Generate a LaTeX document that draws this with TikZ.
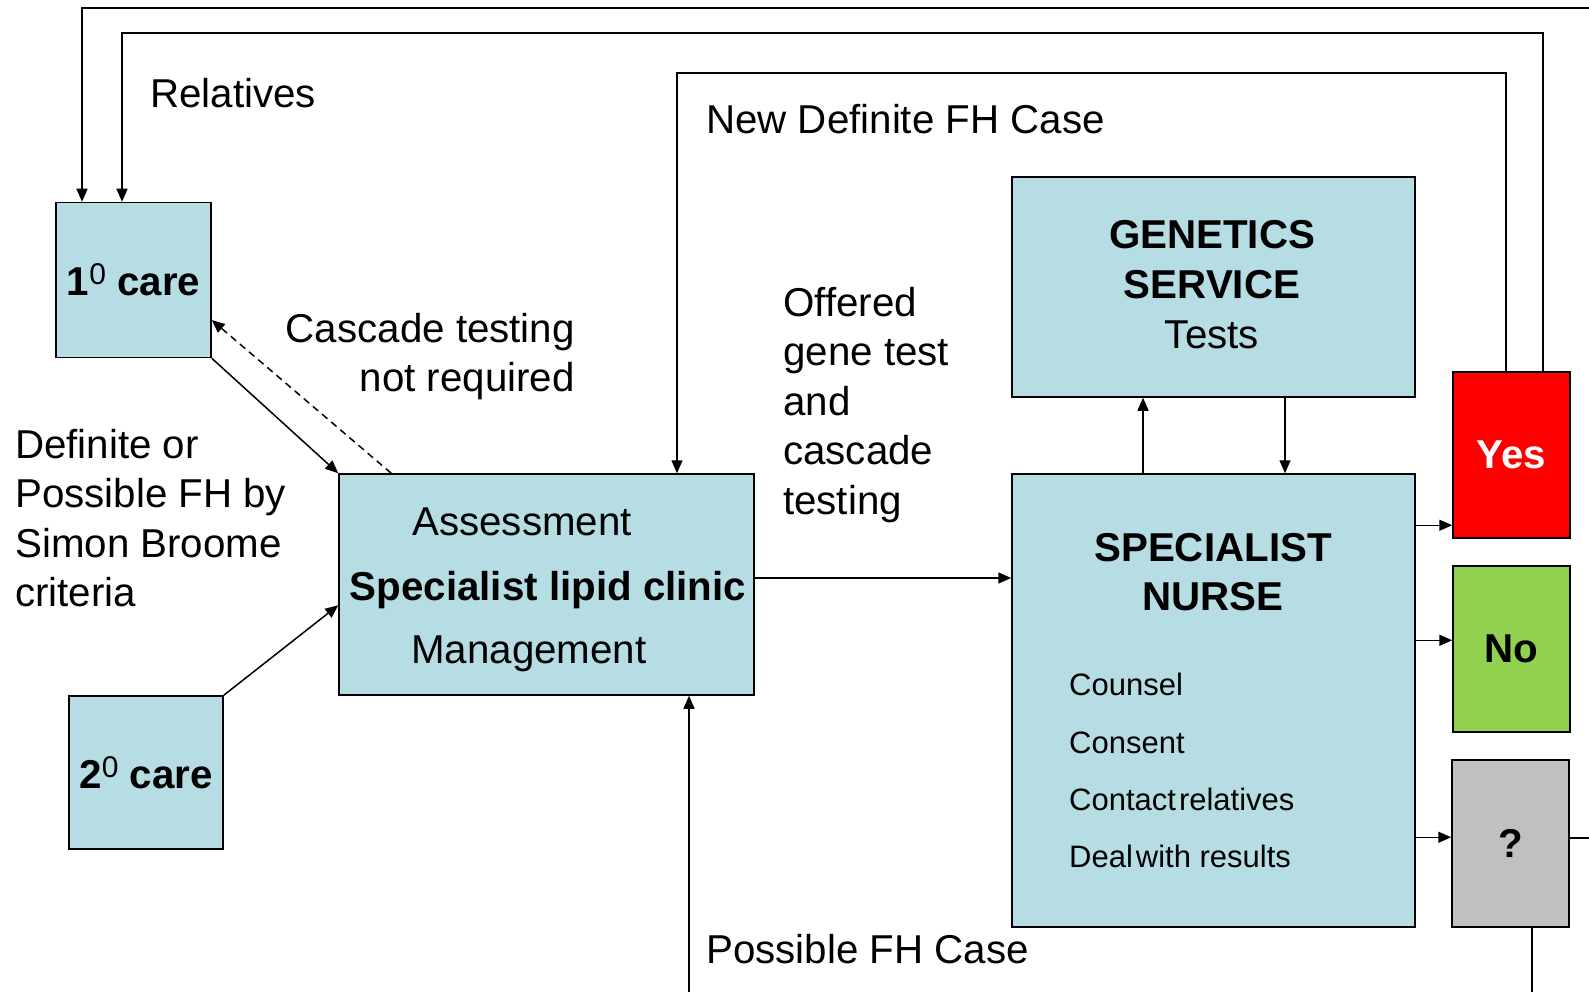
\documentclass[tikz,border=0pt]{standalone}
\usepackage{fontspec}
\setmainfont{Liberation Sans}
\usetikzlibrary{arrows.meta}

\definecolor{boxblue}{RGB}{183,221,228}
\definecolor{yesred}{RGB}{255,0,0}
\definecolor{nogreen}{RGB}{146,208,80}
\definecolor{unkgray}{RGB}{192,192,192}

\tikzset{
  box/.style={draw, line width=1.5pt, fill=boxblue, inner sep=0},
  txt/.style={inner sep=0, font=\fontsize{40.3}{48}\selectfont},
  btxt/.style={inner sep=0, font=\fontsize{40.3}{48}\selectfont\bfseries},
  stxt/.style={inner sep=0, font=\fontsize{31}{36}\selectfont},
  arr/.style={line width=1.5pt, -{Triangle[length=13pt,width=11pt]}},
}

\begin{document}
\begin{tikzpicture}[x=1pt,y=1pt,yscale=-1]
\useasboundingbox (0,0) rectangle (1589,992);
\clip (0,0) rectangle (1589,992);

% care boxes
\node (care1) [box, btxt, minimum width=155, minimum height=155] at (133.5,280) {1\raisebox{0.5ex}{\fontsize{30}{30}\selectfont\mdseries 0} care};
\node (care2) [box, btxt, minimum width=154, minimum height=153] at (146,772.5) {2\raisebox{0.5ex}{\fontsize{30}{30}\selectfont\mdseries 0} care};

% clinic, genetics and nurse
\node (lipid) [box, minimum width=415, minimum height=221] at (546.5,584.5) {};
\node (gen) [box, minimum width=403, minimum height=220] at (1213.5,287) {};
\node (nurse) [box, minimum width=403, minimum height=453] at (1213.5,700.5) {};

% outcomes
\node (yes) [box, btxt, fill=yesred, text=white, minimum width=117, minimum height=166] at (1511.5,455) {Yes};
\node (no) [box, btxt, fill=nogreen, minimum width=117, minimum height=166] at (1511.5,649) {No};
\node (unk) [box, btxt, fill=unkgray, minimum width=117, minimum height=167] at (1510.5,843.5) {?};

% texts in boxes
\node (assess) [txt, anchor=base] at (522,535) {Assessment};
\node (clinic) [btxt, anchor=base] at (548,600) {Specialist lipid clinic};
\node (manage) [txt, anchor=base] at (529,663) {Management};
\node (gen1) [btxt, anchor=base] at (1212,249) {GENETICS};
\node (gen2) [btxt, anchor=base] at (1212,298.5) {SERVICE};
\node (gen3) [txt, anchor=base] at (1212,348) {Tests};
\node (nurse1) [btxt, anchor=base] at (1213,561) {SPECIALIST};
\node (nurse2) [btxt, anchor=base] at (1213,610.5) {NURSE};
\node (task1) [stxt, anchor=base west] at (1069,695) {Counsel};
\node (task2) [stxt, anchor=base west] at (1069,753) {Consent};
\node (task3) [stxt, anchor=base west] at (1069,810) {Contact\hspace{3pt}relatives};
\node (task4) [stxt, anchor=base west] at (1069,867) {Deal\hspace{3pt}with results};

% free labels
\node (relLbl) [txt, anchor=base west] at (150,108) {Relatives};
\node (newLbl) [txt, anchor=base west] at (706,134) {New Definite FH Case};
\node (possLbl) [txt, anchor=base west] at (706,963) {Possible FH Case};
\node (casc1) [txt, anchor=base east] at (575,342) {Cascade testing};
\node (casc2) [txt, anchor=base east] at (575,391.5) {not required};
\node (def1) [txt, anchor=base west] at (15,458) {Definite or};
\node (def2) [txt, anchor=base west] at (15,507.5) {Possible FH by};
\node (def3) [txt, anchor=base west] at (15,557) {Simon Broome};
\node (def4) [txt, anchor=base west] at (15,606.5) {criteria};
\node (off1) [txt, anchor=base west] at (783,316) {Offered};
\node (off2) [txt, anchor=base west] at (783,365.5) {gene test};
\node (off3) [txt, anchor=base west] at (783,415) {and};
\node (off4) [txt, anchor=base west] at (783,464.5) {cascade};
\node (off5) [txt, anchor=base west] at (783,514) {testing};

% referrals
\draw [arr] (care1.south east) -- (lipid.north west);
\draw [arr, dash pattern=on 7pt off 5pt] ([xshift=53]lipid.north west) -- ([yshift=40]care1.east);
\draw [arr] (care2.north east) -- ([yshift=132]lipid.north west);
\coordinate (lipOut) at ([yshift=-6.5]lipid.east);
\draw [arr] (lipOut) -- (lipOut -| nurse.west);

% nurse and genetics
\draw [arr] ([xshift=-70.5]nurse.north) -- ([xshift=-70.5]gen.south);
\draw [arr] ([xshift=71.5]gen.south) -- ([xshift=71.5]nurse.north);

% nurse to outcomes
\coordinate (toYes) at ([yshift=52]nurse.north east);
\coordinate (toNo) at ([yshift=167]nurse.north east);
\coordinate (toUnk) at ([yshift=364]nurse.north east);
\draw [arr] (toYes) -- (toYes -| yes.west);
\draw [arr] (toNo) -- (toNo -| no.west);
\draw [arr] (toUnk) -- (toUnk -| unk.west);

% feedback loops
\draw [arr] ([xshift=-5.5]yes.north) -- ++(0,-298) -| ([xshift=130.5]lipid.north);
\draw [arr] ([xshift=31.5]yes.north) -- ++(0,-338) -| ([xshift=-11.5]care1.north);
\coordinate (unkOut) at ([yshift=-5.5]unk.east);
\draw [arr] (unkOut) -- ++(60,0) -- ++(0,-830) -| ([xshift=-51.5]care1.north);
\draw [arr] ([xshift=21.5]unk.south) -- ++(0,80) -| ([xshift=142.5]lipid.south);

\end{tikzpicture}
\end{document}
